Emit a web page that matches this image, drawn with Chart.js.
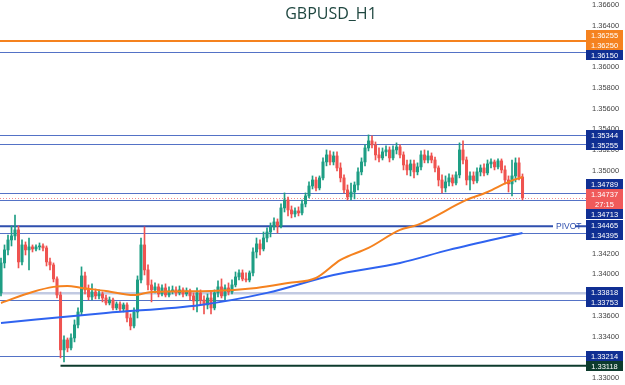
<!DOCTYPE html>
<html>
<head>
<meta charset="utf-8">
<title>GBPUSD_H1</title>
<script src="https://cdn.jsdelivr.net/npm/chart.js@4.4.1/dist/chart.umd.min.js"></script>
<style>
  html, body { margin: 0; padding: 0; background: #fff; }
  #wrap { width: 625px; height: 385px; }
</style>
</head>
<body>
<div id="wrap"><canvas id="chart" width="625" height="385"></canvas></div>
<script>
// hourly candles, oldest first
const opens = [
  1.33821, 1.34110, 1.34236, 1.34332, 1.34371, 1.34429, 1.34120, 1.34284, 1.34236, 1.34265,
  1.34245, 1.34265, 1.34274, 1.34255, 1.34120, 1.34091, 1.33956, 1.33801, 1.33271, 1.33367,
  1.33290, 1.33386, 1.33512, 1.33637, 1.33985, 1.33850, 1.33782, 1.33830, 1.33792, 1.33811,
  1.33772, 1.33724, 1.33753, 1.33676, 1.33714, 1.33666, 1.33705, 1.33579, 1.33502, 1.33637,
  1.33946, 1.34284, 1.34043, 1.33898, 1.33850, 1.33879, 1.33811, 1.33869, 1.33801, 1.33840,
  1.33850, 1.33821, 1.33850, 1.33811, 1.33840, 1.33792, 1.33743, 1.33821, 1.33753, 1.33705,
  1.33772, 1.33676, 1.33821, 1.33879, 1.33792, 1.33869, 1.33830, 1.33898, 1.33975, 1.34014,
  1.33956, 1.33946, 1.34014, 1.34216, 1.34294, 1.34245, 1.34351, 1.34409, 1.34458, 1.34506,
  1.34467, 1.34641, 1.34718, 1.34622, 1.34583, 1.34612, 1.34593, 1.34680, 1.34757, 1.34853,
  1.34911, 1.34834, 1.34931, 1.35085, 1.35153, 1.35085, 1.35143, 1.35027, 1.34931, 1.34815,
  1.34747, 1.34795, 1.34863, 1.34989, 1.35085, 1.35220, 1.35288, 1.35249, 1.35153, 1.35124,
  1.35182, 1.35201, 1.35124, 1.35201, 1.35230, 1.35153, 1.35056, 1.35008, 1.35066, 1.34989,
  1.35037, 1.35153, 1.35104, 1.35143, 1.35104, 1.35027, 1.34911, 1.34834, 1.34892, 1.34931,
  1.34882, 1.34960, 1.35201, 1.35104, 1.34911, 1.34950, 1.34902, 1.34989, 1.35027, 1.34979,
  1.35066, 1.35085, 1.35037, 1.35095, 1.35008, 1.34911, 1.34873, 1.34950, 1.35076, 1.34940
];
const highs = [
  1.34158, 1.34284, 1.34380, 1.34467, 1.34573, 1.34467, 1.34332, 1.34313, 1.34351, 1.34284,
  1.34284, 1.34303, 1.34294, 1.34274, 1.34158, 1.34110, 1.33975, 1.33830, 1.33406, 1.33386,
  1.33425, 1.33560, 1.33676, 1.34072, 1.34023, 1.33898, 1.33908, 1.33859, 1.33850, 1.33830,
  1.33801, 1.33782, 1.33772, 1.33734, 1.33734, 1.33724, 1.33724, 1.33618, 1.33676, 1.33985,
  1.34351, 1.34458, 1.34091, 1.33946, 1.33917, 1.33908, 1.33898, 1.33908, 1.33879, 1.33888,
  1.33879, 1.33888, 1.33869, 1.33869, 1.33859, 1.33821, 1.33869, 1.33850, 1.33792, 1.33811,
  1.33830, 1.33850, 1.33937, 1.33956, 1.33898, 1.33917, 1.33946, 1.34023, 1.34043, 1.34043,
  1.34014, 1.34033, 1.34255, 1.34351, 1.34332, 1.34409, 1.34448, 1.34496, 1.34545, 1.34535,
  1.34680, 1.34786, 1.34747, 1.34660, 1.34641, 1.34651, 1.34718, 1.34786, 1.34892, 1.34950,
  1.34940, 1.34950, 1.35124, 1.35201, 1.35191, 1.35182, 1.35182, 1.35076, 1.34960, 1.34863,
  1.34882, 1.34892, 1.35027, 1.35124, 1.35249, 1.35346, 1.35336, 1.35278, 1.35220, 1.35220,
  1.35240, 1.35230, 1.35240, 1.35269, 1.35249, 1.35182, 1.35104, 1.35104, 1.35104, 1.35076,
  1.35191, 1.35201, 1.35191, 1.35172, 1.35133, 1.35047, 1.34960, 1.34950, 1.34969, 1.34960,
  1.34989, 1.35269, 1.35288, 1.35133, 1.34989, 1.34989, 1.35027, 1.35056, 1.35066, 1.35104,
  1.35114, 1.35104, 1.35114, 1.35114, 1.35047, 1.34950, 1.35104, 1.35124, 1.35124, 1.34969
];
const lows = [
  1.33792, 1.34062, 1.34187, 1.34274, 1.34332, 1.34062, 1.34091, 1.34187, 1.34043, 1.34216,
  1.34226, 1.34236, 1.34226, 1.34081, 1.34043, 1.33927, 1.33772, 1.33194, 1.33155, 1.33252,
  1.33271, 1.33348, 1.33483, 1.33608, 1.33811, 1.33753, 1.33753, 1.33763, 1.33763, 1.33734,
  1.33705, 1.33705, 1.33657, 1.33657, 1.33647, 1.33637, 1.33541, 1.33464, 1.33483, 1.33579,
  1.33917, 1.33994, 1.33850, 1.33734, 1.33821, 1.33782, 1.33792, 1.33782, 1.33782, 1.33811,
  1.33792, 1.33801, 1.33782, 1.33792, 1.33753, 1.33657, 1.33637, 1.33714, 1.33618, 1.33666,
  1.33618, 1.33657, 1.33782, 1.33772, 1.33753, 1.33801, 1.33811, 1.33879, 1.33946, 1.33937,
  1.33927, 1.33927, 1.33985, 1.34158, 1.34187, 1.34226, 1.34313, 1.34361, 1.34429, 1.34400,
  1.34448, 1.34602, 1.34564, 1.34545, 1.34554, 1.34564, 1.34573, 1.34651, 1.34738, 1.34824,
  1.34805, 1.34815, 1.34911, 1.35047, 1.35056, 1.35056, 1.34998, 1.34892, 1.34786, 1.34718,
  1.34718, 1.34728, 1.34815, 1.34960, 1.35047, 1.35191, 1.35220, 1.35104, 1.35085, 1.35104,
  1.35143, 1.35085, 1.35104, 1.35162, 1.35124, 1.35008, 1.34960, 1.34950, 1.34931, 1.34960,
  1.35008, 1.35076, 1.35076, 1.35076, 1.34989, 1.34853, 1.34786, 1.34795, 1.34853, 1.34853,
  1.34863, 1.34931, 1.35066, 1.34863, 1.34815, 1.34873, 1.34882, 1.34950, 1.34950, 1.34960,
  1.35027, 1.35008, 1.35018, 1.34979, 1.34873, 1.34795, 1.34757, 1.34892, 1.34911, 1.34718
];
const closes = [
  1.34110, 1.34236, 1.34332, 1.34371, 1.34429, 1.34120, 1.34284, 1.34236, 1.34265, 1.34245,
  1.34265, 1.34274, 1.34255, 1.34120, 1.34091, 1.33956, 1.33801, 1.33271, 1.33367, 1.33290,
  1.33386, 1.33512, 1.33637, 1.33985, 1.33850, 1.33782, 1.33830, 1.33792, 1.33811, 1.33772,
  1.33724, 1.33753, 1.33676, 1.33714, 1.33666, 1.33705, 1.33579, 1.33502, 1.33637, 1.33946,
  1.34284, 1.34043, 1.33898, 1.33850, 1.33879, 1.33811, 1.33869, 1.33801, 1.33840, 1.33850,
  1.33821, 1.33850, 1.33811, 1.33840, 1.33792, 1.33743, 1.33821, 1.33753, 1.33705, 1.33772,
  1.33676, 1.33821, 1.33879, 1.33792, 1.33869, 1.33830, 1.33898, 1.33975, 1.34014, 1.33956,
  1.33946, 1.34014, 1.34216, 1.34294, 1.34245, 1.34351, 1.34409, 1.34458, 1.34506, 1.34467,
  1.34641, 1.34718, 1.34622, 1.34583, 1.34612, 1.34593, 1.34680, 1.34757, 1.34853, 1.34911,
  1.34834, 1.34931, 1.35085, 1.35153, 1.35085, 1.35143, 1.35027, 1.34931, 1.34815, 1.34747,
  1.34795, 1.34863, 1.34989, 1.35085, 1.35220, 1.35288, 1.35249, 1.35153, 1.35124, 1.35182,
  1.35201, 1.35124, 1.35201, 1.35230, 1.35153, 1.35056, 1.35008, 1.35066, 1.34989, 1.35037,
  1.35153, 1.35104, 1.35143, 1.35104, 1.35027, 1.34911, 1.34834, 1.34892, 1.34931, 1.34882,
  1.34960, 1.35201, 1.35104, 1.34911, 1.34950, 1.34902, 1.34989, 1.35027, 1.34979, 1.35066,
  1.35085, 1.35037, 1.35095, 1.35008, 1.34911, 1.34873, 1.34950, 1.35076, 1.34940, 1.34737
];

// moving averages, read at a few bars
const maFastBars = [0, 9, 15, 19, 23, 30, 38, 43, 60, 73, 82, 90, 97, 105, 114, 119, 133, 139, 145, 149];
const maFast = [1.33724, 1.33830, 1.33879, 1.33888, 1.33869, 1.33840, 1.33801, 1.33830, 1.33840, 1.33869,
                1.33917, 1.33965, 1.34139, 1.34255, 1.34429, 1.34477, 1.34718, 1.34795, 1.34892, 1.34940];
const maSlowBars = [0, 30, 57, 76, 95, 114, 128, 149];
const maSlow = [1.33531, 1.33628, 1.33705, 1.33821, 1.33994, 1.34110, 1.34236, 1.34400];

// horizontal levels
const levels = [1.36255, 1.36250, 1.36150, 1.35344, 1.35255, 1.34789, 1.34713, 1.34465, 1.34395, 1.33818, 1.33753, 1.33214, 1.33118];
const levelKinds = ['orange', 'orange', 'blue', 'blue', 'blue', 'blue', 'blue', 'pivot', 'blue', 'light', 'blue', 'blue', 'support'];
const lastPrice = 1.34737;
const countdown = '27:15';
const yTicks = [1.366, 1.364, 1.362, 1.360, 1.358, 1.356, 1.354, 1.352, 1.350, 1.348, 1.346, 1.344,
                1.342, 1.340, 1.338, 1.336, 1.334, 1.332, 1.330];

const UP = '#1e9e84';
const DOWN = '#ef5350';
const kindStyle = {
  orange:  { line: '#f5821f', width: 1.5, box: '#f5821f' },
  blue:    { line: '#5472c6', width: 1,   box: '#102f93' },
  pivot:   { line: '#2f4fae', width: 2,   box: '#102f93' },
  light:   { line: '#c2cae2', width: 2.5, box: '#102f93' },
  support: { line: '#0d3b2d', width: 2,   box: '#0d3b2d' }
};
const supportFromBar = 17;
const BOX_LEFT = 586, BOX_W = 37, BOX_H = 10;

const candleColor = (i) => closes[i] >= opens[i] ? UP : DOWN;

// stack price boxes so they don't overlap
const stackBoxes = (items) => {
  items.sort((a, b) => a.want - b.want);
  let groups = items.map(it => ({ items: [it], top: it.want, h: it.h }));
  let merged = true;
  while (merged) {
    merged = false;
    for (let g = 0; g < groups.length - 1; g++) {
      const a = groups[g], b = groups[g + 1];
      if (a.top + a.h > b.top) {
        const all = a.items.concat(b.items);
        let off = 0, sum = 0;
        all.forEach(it => { sum += it.want - off; off += it.h; });
        groups.splice(g, 2, { items: all, top: sum / all.length, h: off });
        merged = true;
        break;
      }
    }
  }
  groups.forEach(g => {
    let y = g.top;
    g.items.forEach(it => { it.top = y; y += it.h; });
  });
};

const levelsPlugin = {
  id: 'levels',
  beforeDatasetsDraw(chart) {
    const { ctx, chartArea, scales } = chart;
    const ys = scales.y, xs = scales.x;
    ctx.save();
    levels.forEach((v, i) => {
      const st = kindStyle[levelKinds[i]];
      let y = ys.getPixelForValue(v);
      if (st.width === 1) y = Math.round(y) + 0.5;
      const x0 = levelKinds[i] === 'support' ? xs.getPixelForValue(supportFromBar) : chartArea.left;
      ctx.strokeStyle = st.line;
      ctx.lineWidth = st.width;
      ctx.beginPath();
      if (levelKinds[i] === 'pivot') {
        ctx.moveTo(x0, y); ctx.lineTo(553, y);
        ctx.moveTo(575, y); ctx.lineTo(chartArea.right, y);
      } else {
        ctx.moveTo(x0, y); ctx.lineTo(chartArea.right, y);
      }
      ctx.stroke();
      if (levelKinds[i] === 'pivot') {
        ctx.fillStyle = '#2f4fae';
        ctx.font = '8.5px "Liberation Sans", Arial, sans-serif';
        ctx.textAlign = 'left';
        ctx.textBaseline = 'middle';
        ctx.fillText('PIVOT', 556, y + 0.5);
      }
    });
    // last price dotted line
    const yl = Math.round(ys.getPixelForValue(lastPrice)) + 0.5;
    ctx.strokeStyle = '#f08c8c';
    ctx.lineWidth = 1;
    ctx.setLineDash([1, 2]);
    ctx.beginPath();
    ctx.moveTo(chartArea.left, yl);
    ctx.lineTo(chartArea.right, yl);
    ctx.stroke();
    ctx.restore();
  },
  afterDraw(chart) {
    const { ctx, scales } = chart;
    const ys = scales.y;
    const boxes = levels.map((v, i) => ({
      want: ys.getPixelForValue(v) - BOX_H / 2, h: BOX_H,
      color: kindStyle[levelKinds[i]].box, lines: [v.toFixed(5)]
    }));
    boxes.push({
      want: ys.getPixelForValue(lastPrice) - BOX_H / 2, h: BOX_H * 2,
      color: '#f05a5a', lines: [lastPrice.toFixed(5), countdown]
    });
    stackBoxes(boxes);
    ctx.save();
    ctx.font = '7.5px "Liberation Sans", Arial, sans-serif';
    ctx.textAlign = 'center';
    ctx.textBaseline = 'middle';
    boxes.forEach(b => {
      ctx.fillStyle = b.color;
      ctx.fillRect(BOX_LEFT, Math.round(b.top), BOX_W, b.h);
      ctx.fillStyle = '#ffffff';
      b.lines.forEach((t, k) => ctx.fillText(t, BOX_LEFT + BOX_W / 2, Math.round(b.top) + BOX_H / 2 + k * BOX_H + 0.5));
    });
    // title
    ctx.fillStyle = '#1f4740';
    ctx.font = '16px "Open Sans", sans-serif';
    ctx.fillText('GBPUSD_H1', 331, 14);
    ctx.restore();
  }
};

new Chart(document.getElementById('chart'), {
  type: 'bar',
  data: {
    datasets: [
      {
        type: 'line',
        data: maFastBars.map((b, i) => ({ x: b, y: maFast[i] })),
        borderColor: '#f5821f',
        borderWidth: 2,
        pointRadius: 0,
        cubicInterpolationMode: 'monotone',
        order: 0
      },
      {
        type: 'line',
        data: maSlowBars.map((b, i) => ({ x: b, y: maSlow[i] })),
        borderColor: '#2f63f0',
        borderWidth: 2,
        pointRadius: 0,
        cubicInterpolationMode: 'monotone',
        order: 0
      },
      {
        data: closes.map((c, i) => ({ x: i, y: [opens[i], c] })),
        backgroundColor: (c) => candleColor(c.dataIndex),
        barThickness: 2.4,
        minBarLength: 1,
        grouped: false,
        order: 1
      },
      {
        data: highs.map((h, i) => ({ x: i, y: [lows[i], h] })),
        backgroundColor: (c) => candleColor(c.dataIndex),
        barThickness: 1,
        grouped: false,
        order: 2
      }
    ]
  },
  options: {
    responsive: false,
    animation: false,
    layout: { padding: 0 },
    plugins: { legend: { display: false }, tooltip: { enabled: false } },
    scales: {
      x: {
        type: 'linear',
        display: false,
        offset: false,
        min: -0.286,
        max: 167.14
      },
      y: {
        position: 'right',
        min: 1.32932,
        max: 1.36648,
        grid: { display: false, drawTicks: false },
        border: { display: false },
        afterBuildTicks: (axis) => { axis.ticks = yTicks.map(v => ({ value: v })); },
        afterFit: (axis) => {
          axis.width = 39;
          axis.paddingTop = 0;
          axis.paddingBottom = 0;
        },
        ticks: {
          padding: 6,
          color: '#444',
          font: { family: '"Liberation Sans", Arial, sans-serif', size: 7.5 },
          callback: (v) => v.toFixed(5)
        }
      }
    }
  },
  plugins: [levelsPlugin]
});
</script>
</body>
</html>
